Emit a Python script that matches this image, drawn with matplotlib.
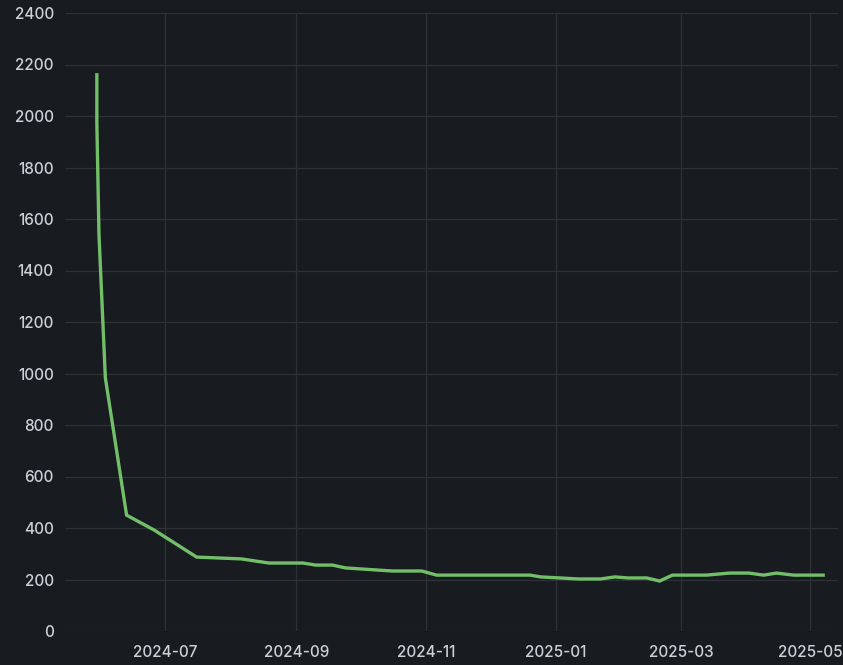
import matplotlib
matplotlib.use("Agg")
import matplotlib.pyplot as plt
import pandas as pd

dates = ["2024-05-30", "2024-05-30", "2024-05-31", "2024-06-03", "2024-06-13",
         "2024-06-26", "2024-07-16", "2024-08-06", "2024-08-19", "2024-09-04",
         "2024-09-10", "2024-09-18", "2024-09-24", "2024-10-16", "2024-10-30",
         "2024-11-06", "2024-12-20", "2024-12-25", "2025-01-12", "2025-01-22",
         "2025-01-29", "2025-02-04", "2025-02-13", "2025-02-19", "2025-02-25",
         "2025-03-13", "2025-03-24", "2025-04-02", "2025-04-09", "2025-04-15",
         "2025-04-23", "2025-05-07"]
values = [2160, 1970, 1540, 983, 450,
          392, 287, 280, 264, 264,
          256, 256, 245, 233, 233,
          217, 217, 210, 202, 202,
          210, 206, 206, 194, 217,
          217, 225, 225, 217, 225,
          217, 217]
y_ticks = [0, 200, 400, 600, 800, 1000, 1200, 1400, 1600, 1800, 2000, 2200, 2400]
x_ticks = ["2024-07-01", "2024-09-01", "2024-11-01", "2025-01-01", "2025-03-01", "2025-05-01"]
x_labels = ["2024-07", "2024-09", "2024-11", "2025-01", "2025-03", "2025-05"]

bg = "#181b1f"
plt.rcParams["font.family"] = ["Inter", "DejaVu Sans"]

fig = plt.figure(figsize=(8.43, 6.65), dpi=100, facecolor=bg)
ax = fig.add_axes([65/843, 34/665, (838-65)/843, (631-13)/665])
ax.set_facecolor(bg)

x = pd.to_datetime(dates)
ax.plot(x, values, color="#73bf69", lw=2.4, solid_joinstyle="miter", zorder=3)

ax.set_ylim(0, 2400)
ax.set_xlim(pd.Timestamp("2024-05-15"), pd.Timestamp("2025-05-14"))
ax.set_yticks(y_ticks)
ax.set_xticks(pd.to_datetime(x_ticks))
ax.set_xticklabels(x_labels)

for s in ax.spines.values():
    s.set_visible(False)
ax.grid(True, color="#2e3136", lw=0.9)
ax.set_axisbelow(True)
ax.tick_params(axis="both", colors="#ccd0d8", labelsize=11, length=0)
ax.tick_params(axis="y", pad=8)
ax.tick_params(axis="x", pad=10)
for lab in ax.get_xticklabels() + ax.get_yticklabels():
    lab.set_fontweight("medium")

fig.savefig("out.png", dpi=100, facecolor=bg)
